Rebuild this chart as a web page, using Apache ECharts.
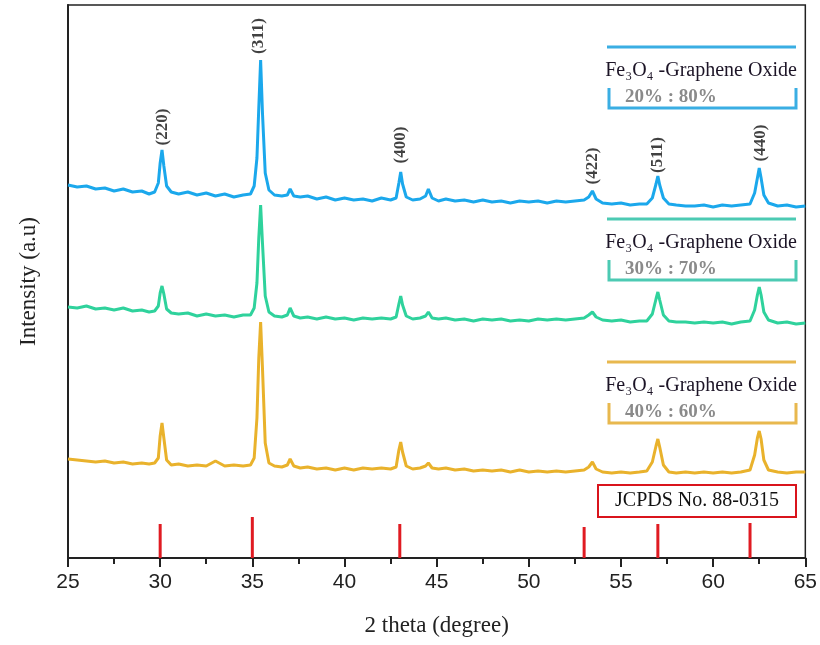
<!DOCTYPE html>
<html>
<head>
<meta charset="utf-8">
<title>XRD Fe3O4-Graphene Oxide</title>
<script src="https://cdn.jsdelivr.net/npm/echarts@6/dist/echarts.min.js"></script>
<style>
  html, body { margin: 0; padding: 0; background: #fff; }
  #chart { width: 820px; height: 645px; }
</style>
</head>
<body>
<div id="chart"></div>
<script>
// 2 theta positions (degree)
const twoTheta = [
  25.0, 25.5, 26.0, 26.5, 27.0, 27.5, 28.0, 28.5, 29.0, 29.4,
  29.7, 29.9, 30.0, 30.1, 30.2, 30.35, 30.6, 31.0, 31.5, 32.0,
  32.5, 33.0, 33.5, 34.0, 34.5, 34.9, 35.1, 35.25, 35.35, 35.45,
  35.55, 35.7, 35.9, 36.2, 36.6, 36.9, 37.05, 37.25, 37.6, 38.0,
  38.5, 39.0, 39.5, 40.0, 40.5, 41.0, 41.5, 42.0, 42.5, 42.8,
  42.95, 43.05, 43.15, 43.35, 43.7, 44.1, 44.4, 44.55, 44.75, 45.1,
  45.5, 46.0, 46.5, 47.0, 47.5, 48.0, 48.5, 49.0, 49.5, 50.0,
  50.5, 51.0, 51.5, 52.0, 52.5, 53.0, 53.25, 53.45, 53.65, 54.0,
  54.5, 55.0, 55.5, 56.0, 56.4, 56.7, 56.9, 57.0, 57.1, 57.3,
  57.6, 58.0, 58.5, 59.0, 59.5, 60.0, 60.5, 61.0, 61.5, 62.0,
  62.25, 62.4, 62.5, 62.6, 62.75, 63.0, 63.5, 64.0, 64.5, 65.0
];

// intensity (a.u., curves already offset)
const go20 = [
  373, 371, 372, 369, 370, 367, 369, 366, 367, 364,
  366, 375, 395, 408, 392, 372, 366, 364, 366, 363,
  365, 362, 364, 361, 363, 364, 372, 400, 450, 498,
  445, 385, 368, 363, 362, 363, 369, 362, 361, 362,
  359, 361, 358, 360, 358, 359, 357, 360, 358, 360,
  375, 386, 374, 361, 358, 359, 362, 369, 360, 357,
  359, 357, 358, 356, 358, 356, 357, 355, 357, 356,
  357, 355, 357, 356, 357, 358, 361, 367, 359, 355,
  354, 355, 353, 354, 354, 360, 374, 382, 373, 360,
  354, 353, 352, 352, 353, 351, 353, 352, 353, 354,
  365, 380, 390, 380, 363, 355, 352, 353, 351, 352
];
const go30 = [
  251, 250, 252, 249, 250, 248, 250, 247, 248, 246,
  247, 252, 265, 272, 264, 249, 245, 244, 245, 242,
  244, 242, 243, 241, 243, 243, 250, 275, 320, 353,
  315, 262, 246, 242, 241, 243, 250, 242, 240, 241,
  239, 241, 239, 240, 238, 240, 239, 240, 239, 241,
  254, 262, 253, 242, 239, 240, 242, 246, 240, 239,
  240, 238, 239, 237, 239, 238, 239, 237, 238, 237,
  239, 238, 239, 238, 239, 240, 243, 246, 241, 238,
  237, 238, 236, 237, 237, 244, 259, 266, 258, 243,
  237, 236, 236, 235, 236, 235, 236, 234, 236, 237,
  248, 263, 271, 263, 246, 238, 235, 236, 234, 235
];
const go40 = [
  99, 98, 97, 96, 97, 95, 96, 94, 95, 94,
  95, 100, 122, 135, 120, 98, 93, 94, 92, 93,
  92, 97, 92, 93, 92, 93, 100, 140, 200, 236,
  190, 115, 95, 92, 91, 93, 99, 92, 90, 91,
  89, 90, 88, 90, 88, 90, 89, 90, 89, 91,
  108, 116, 106, 92, 89, 90, 92, 95, 90, 89,
  90, 88, 89, 87, 88, 87, 88, 86, 88, 86,
  87, 86, 87, 86, 87, 88, 91, 96, 89, 86,
  85, 86, 85, 86, 87, 96, 112, 119, 111, 93,
  86, 85, 86, 85, 86, 85, 86, 85, 86, 88,
  103, 120, 127, 119, 98, 88, 86, 85, 86, 86
];

// JCPDS 88-0315 reference lines
const jcpdsPos = [30, 35, 43, 53, 57, 62];
const jcpdsRel = [34, 41, 34, 31, 34, 35];

// hkl labels
const peakHkl = ["(220)", "(311)", "(400)", "(422)", "(511)", "(440)"];
const peakLabelX = [30.12, 35.35, 43.05, 53.45, 57.0, 62.56];
const peakLabelY = [431, 522, 413, 392, 403, 415];

const xTicks = [25, 30, 35, 40, 45, 50, 55, 60, 65];

const zip = (xs, ys) => xs.map((x, i) => [x, ys[i]]);

const serif = "'Liberation Serif', 'DejaVu Serif', serif";
const blue = "#1ba8ec";
const green = "#2fd29c";
const yellow = "#e9b22c";

// little bracket legends drawn beside each curve
function legendBlock(top, lineColor, ratio) {
  return [
    {
      type: "line",
      shape: { x1: 607, y1: top, x2: 796, y2: top },
      style: { stroke: lineColor, lineWidth: 3 },
    },
    {
      type: "text",
      x: 701,
      y: top + 24,
      style: {
        text: "Fe\u2083O\u2084 -Graphene Oxide",
        font: "20px " + serif,
        fill: "#1c1426",
        align: "center",
        verticalAlign: "middle",
      },
    },
    {
      type: "polyline",
      shape: { points: [[609, top + 41], [609, top + 61], [796, top + 61], [796, top + 41]] },
      style: { stroke: lineColor, lineWidth: 3, fill: null },
    },
    {
      type: "text",
      x: 625,
      y: top + 50,
      style: {
        text: ratio,
        font: "bold 19px " + serif,
        fill: "#8a8a8a",
        align: "left",
        verticalAlign: "middle",
      },
    },
  ];
}

const chart = echarts.init(document.getElementById("chart"));
chart.setOption({
  animation: false,
  backgroundColor: "#fff",
  grid: {
    left: 68,
    right: 14,
    top: 5,
    bottom: 87,
    show: true,
    borderColor: "#222",
    borderWidth: 1.5,
  },
  xAxis: {
    type: "value",
    min: 25,
    max: 65,
    interval: 5,
    name: "2 theta (degree)",
    nameLocation: "middle",
    nameGap: 56,
    nameTextStyle: { fontFamily: serif, fontSize: 23, color: "#222" },
    axisLine: { show: true, onZero: false, lineStyle: { color: "#222", width: 2 } },
    axisTick: { show: true, inside: false, length: 9, lineStyle: { color: "#222", width: 2 } },
    minorTick: { show: true, splitNumber: 2, length: 6, lineStyle: { color: "#222", width: 2 } },
    axisLabel: {
      margin: 14,
      fontFamily: "'Liberation Sans', Arial, sans-serif",
      fontSize: 21,
      color: "#222",
      formatter: (v) => (xTicks.includes(v) ? String(v) : ""),
    },
    splitLine: { show: false },
  },
  yAxis: {
    type: "value",
    min: 0,
    max: 553,
    name: "Intensity (a.u)",
    nameLocation: "middle",
    nameGap: 28,
    nameTextStyle: { fontFamily: serif, fontSize: 23, color: "#222" },
    axisLine: { show: true, lineStyle: { color: "#222", width: 2 } },
    axisTick: { show: false },
    axisLabel: { show: false },
    splitLine: { show: false },
  },
  series: [
    {
      name: "20:80",
      type: "line",
      data: zip(twoTheta, go20),
      showSymbol: false,
      lineStyle: { color: blue, width: 3 },
    },
    {
      name: "30:70",
      type: "line",
      data: zip(twoTheta, go30),
      showSymbol: false,
      lineStyle: { color: green, width: 3 },
    },
    {
      name: "40:60",
      type: "line",
      data: zip(twoTheta, go40),
      showSymbol: false,
      lineStyle: { color: yellow, width: 3 },
    },
    {
      name: "JCPDS",
      type: "bar",
      data: zip(jcpdsPos, jcpdsRel),
      barWidth: 3,
      itemStyle: { color: "#e01b22" },
    },
    {
      name: "hkl",
      type: "scatter",
      data: zip(peakLabelX, peakLabelY).map((p, i) => ({ value: p, name: peakHkl[i] })),
      symbolSize: 0,
      label: {
        show: true,
        position: "inside",
        rotate: 90,
        formatter: (p) => p.name,
        fontFamily: serif,
        fontWeight: "bold",
        fontSize: 17,
        color: "#111",
      },
    },
  ],
  graphic: [
    ...legendBlock(47, "#3aaee3", "20% : 80%"),
    ...legendBlock(219, "#4ccab3", "30% : 70%"),
    ...legendBlock(362, "#e8b84e", "40% : 60%"),
    {
      type: "rect",
      shape: { x: 598, y: 485, width: 198, height: 32 },
      style: { fill: "#fff", stroke: "#d9141c", lineWidth: 2 },
    },
    {
      type: "text",
      x: 697,
      y: 501,
      style: {
        text: "JCPDS No. 88-0315",
        font: "20px " + serif,
        fill: "#111",
        align: "center",
        verticalAlign: "middle",
      },
    },
  ],
});
</script>
</body>
</html>
